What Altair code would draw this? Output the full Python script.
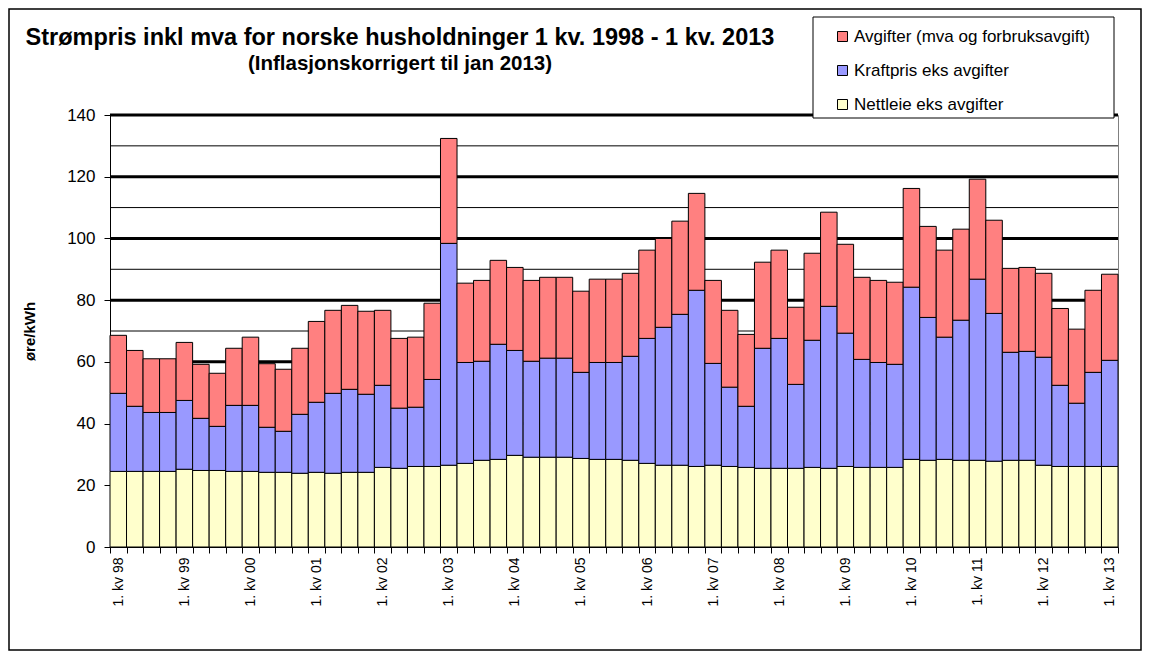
import altair as alt
import pandas as pd

FONT = "Liberation Sans"

quarters = [f"{q}. kv {y % 100:02d}" for y in range(1998, 2014) for q in range(1, 5)][:61]

nettleie = [24.5, 24.5, 24.5, 24.5, 25.2, 24.8, 24.8, 24.5, 24.5, 24.2, 24.2, 23.9,
            24.2, 23.9, 24.2, 24.2, 25.8, 25.5, 26.1, 26.1, 26.5, 27.1, 28.1, 28.4,
            29.7, 29.1, 29.1, 29.1, 28.7, 28.4, 28.4, 28.1, 27.1, 26.5, 26.5, 26.1,
            26.5, 26.1, 25.8, 25.5, 25.5, 25.5, 25.8, 25.5, 26.1, 25.8, 25.8, 25.8,
            28.4, 28.1, 28.4, 28.1, 28.1, 27.8, 28.1, 28.1, 26.5, 26.1, 26.1, 26.1, 26.1]
kraftpris = [25.3, 21.1, 19.1, 19.1, 22.3, 16.9, 14.3, 21.4, 21.4, 14.6, 13.3, 19.1,
             22.7, 25.9, 26.9, 25.3, 26.6, 19.5, 19.2, 28.2, 71.9, 32.7, 32.1, 37.3,
             34.0, 31.1, 32.1, 32.1, 27.9, 31.4, 31.4, 33.7, 40.5, 44.7, 48.9, 57.1,
             33.0, 25.7, 19.8, 38.9, 42.1, 27.2, 41.2, 52.5, 43.2, 35.0, 34.0, 33.4,
             55.8, 46.3, 39.6, 45.4, 58.7, 47.9, 35.0, 35.3, 35.0, 26.3, 20.5, 30.5, 34.4]
avgifter = [18.8, 18.1, 17.4, 17.4, 18.8, 17.5, 17.2, 18.5, 22.1, 20.6, 20.1, 21.4,
            26.2, 26.9, 27.2, 26.9, 24.3, 22.6, 22.7, 24.7, 34.0, 25.7, 26.2, 27.2,
            26.9, 26.2, 26.2, 26.2, 26.3, 27.0, 27.0, 26.9, 28.6, 28.8, 30.2, 31.4,
            26.9, 24.9, 23.3, 27.9, 28.6, 25.0, 28.2, 30.5, 28.8, 26.6, 26.6, 26.6,
            32.0, 29.5, 28.2, 29.5, 32.4, 30.2, 27.2, 27.2, 27.2, 24.9, 24.0, 26.6, 27.9]

series_names = ["Avgifter (mva og forbruksavgift)", "Kraftpris eks avgifter", "Nettleie eks avgifter"]
series_colors = ["#FF8080", "#9999FF", "#FFFFCC"]
y_ticks = [0, 20, 40, 60, 80, 100, 120, 140]
grid_values = [10, 20, 30, 40, 50, 60, 70, 80, 90, 100, 110, 120, 130, 140]

title_text = "Strømpris inkl mva for norske husholdninger 1 kv. 1998 - 1 kv. 2013"
subtitle_text = "(Inflasjonskorrigert til jan 2013)"

rows = []
for i, q in enumerate(quarters):
    rows.append({"kvartal": q, "serie": series_names[2], "ord": 0, "verdi": nettleie[i]})
    rows.append({"kvartal": q, "serie": series_names[1], "ord": 1, "verdi": kraftpris[i]})
    rows.append({"kvartal": q, "serie": series_names[0], "ord": 2, "verdi": avgifter[i]})
df = pd.DataFrame(rows)

W, H = 1008, 432

y_axis = alt.Axis(values=y_ticks, grid=False, tickSize=6, tickColor="black", domainColor="black",
                  labelFont=FONT, labelFontSize=17, labelColor="black", labelPadding=9,
                  title="øre/kWh", titleFont=FONT, titleFontSize=15, titleFontWeight="bold",
                  titleColor="black", titlePadding=29)
y_scale = alt.Scale(domain=[0, 140], nice=False)

grid = alt.Chart(pd.DataFrame({"v": grid_values})).transform_calculate(
    w="datum.v % 20 == 0 ? 3 : 1"
).mark_rule(color="black").encode(
    y=alt.Y("v:Q", scale=y_scale, axis=y_axis),
    strokeWidth=alt.StrokeWidth("w:Q", scale=None, legend=None),
)

bars = alt.Chart(df).mark_bar(stroke="black", strokeWidth=1).encode(
    x=alt.X("kvartal:N", sort=quarters,
            scale=alt.Scale(paddingInner=0, paddingOuter=0),
            axis=alt.Axis(title=None, tickBand="extent", labelAngle=270, tickSize=6,
                          tickColor="black", domainColor="black", labelFont=FONT,
                          labelFontSize=14, labelColor="black", labelPadding=4,
                          labelExpr="indexof(datum.label + '', '1.') === 0 ? datum.label : ''")),
    y=alt.Y("verdi:Q", stack="zero", scale=y_scale, axis=y_axis),
    color=alt.Color("serie:N", scale=alt.Scale(domain=series_names, range=series_colors),
                    legend=alt.Legend(title=None, orient="none", legendX=724, legendY=-87,
                                      symbolType="square", symbolSize=100,
                                      symbolStrokeColor="black", symbolStrokeWidth=1,
                                      labelFont=FONT, labelFontSize=17, labelLimit=400,
                                      labelOffset=3, labelColor="black", rowPadding=16)),
    order=alt.Order("ord:Q"),
)

one = pd.DataFrame({"a": [0]})
legend_box = alt.Chart(one).mark_rect(fill="white", stroke="black", strokeWidth=1).encode(
    x=alt.value(703), x2=alt.value(1004), y=alt.value(-98), y2=alt.value(3)
)
frame = alt.Chart(one).mark_rect(fill="transparent", stroke="black", strokeWidth=1.5).encode(
    x=alt.value(-101), x2=alt.value(1031), y=alt.value(-106), y2=alt.value(535)
)
title_mark = alt.Chart(one).mark_text(
    text=title_text, font=FONT, fontSize=23.5, fontWeight="bold", color="black",
    align="center", baseline="alphabetic"
).encode(x=alt.value(290), y=alt.value(-70))
subtitle_mark = alt.Chart(one).mark_text(
    text=subtitle_text, font=FONT, fontSize=20.5, fontWeight="bold", color="black",
    align="center", baseline="alphabetic"
).encode(x=alt.value(290), y=alt.value(-45))

chart = alt.layer(grid, bars, legend_box, frame, title_mark, subtitle_mark).properties(
    width=W, height=H,
    autosize=alt.AutoSizeParams(type="none"),
    padding={"left": 102, "top": 107, "right": 24, "bottom": 105},
    background="white",
).configure_view(stroke="#808080", strokeWidth=1)

chart.save("out.html", embed_options={"renderer": "svg", "actions": False})
